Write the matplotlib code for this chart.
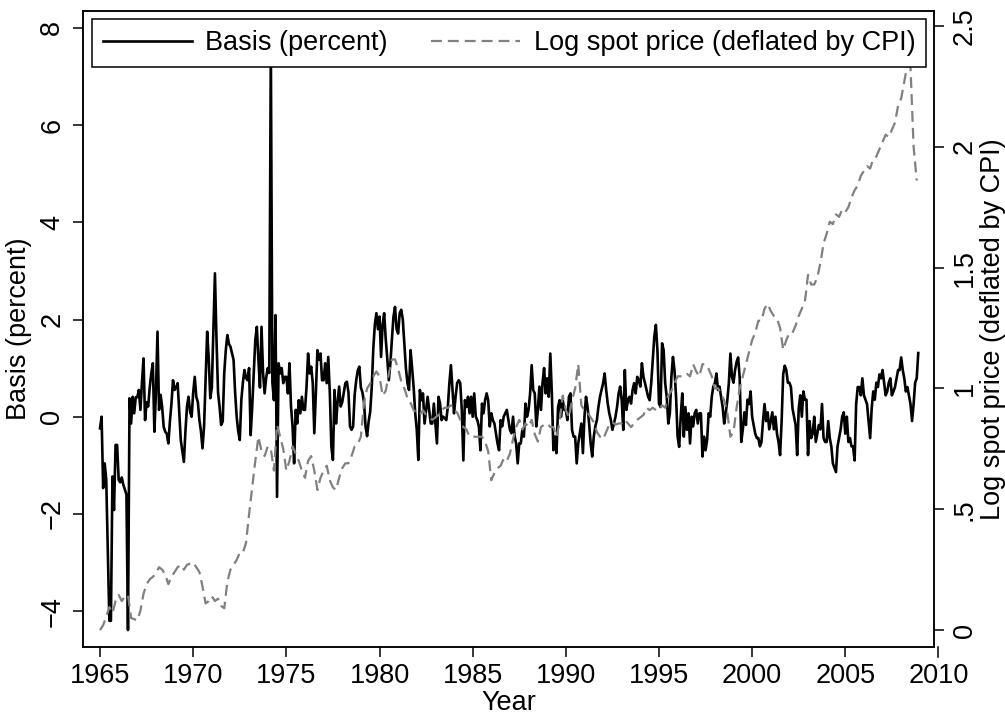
import numpy as np
import matplotlib
matplotlib.use('Agg')
import matplotlib.pyplot as plt
import matplotlib.transforms as mtransforms

plt.rcParams['font.family'] = ['Liberation Sans', 'DejaVu Sans']
plt.rcParams['font.size'] = 19.5

# monthly basis (percent), Jan 1965 .. Dec 2008, one row per year
first_year = 1965
basis = [
    -0.24, 0.0, -1.47, -0.96, -1.3, -2.8, -4.2, -4.2, -1.23, -1.92, -0.58, -0.58,   # 1965
    -1.3, -1.35, -1.25, -1.4, -1.5, -1.6, -4.39, 0.38, -0.14, 0.41, 0.07, 0.4,       # 1966
    0.4, 0.55, 0.14, 0.7, 1.2, -0.07, 0.3, 0.21, 0.6, 0.89, 1.1, -0.31,             # 1967
    0.5, 1.75, 0.14, 0.45, 0.2, -0.21, -0.31, -0.35, -0.55, -0.1, 0.27, 0.75,       # 1968
    0.55, 0.6, 0.69, 0.1, -0.48, -0.7, -0.93, -0.3, 0.21, 0.41, 0.1, 0.0,           # 1969
    0.5, 0.82, 0.41, 0.3, -0.07, -0.3, -0.65, -0.2, 0.75, 1.75, 1.2, 0.38,          # 1970
    0.6, 1.8, 2.95, 1.6, 0.5, 0.2, -0.17, -0.1, 0.9, 1.37, 1.68, 1.5,               # 1971
    1.44, 1.3, 1.17, 0.5, 0.0, -0.3, -0.48, 0.34, 0.7, 0.96, 0.8, 0.75,             # 1972
    1.0, -0.38, 0.2, 0.9, 1.58, 1.85, 1.17, 0.6, 1.85, 0.9, 0.48, 0.8,              # 1973
    1.0, 0.9, 7.6, 0.7, 0.34, 2.09, -1.65, 1.1, 0.89, 1.0, 0.69, 0.82,              # 1974
    0.82, 0.48, 1.1, 0.21, -0.2, -0.96, 0.14, -0.14, 0.34, 0.07, 0.41, 0.14,        # 1975
    0.14, 0.62, 1.3, 0.89, 1.03, 0.69, -0.34, 0.48, 1.37, 1.17, 1.3, 0.75,          # 1976
    0.75, 1.1, 0.69, 1.23, 0.48, -0.62, -0.89, 0.55, -0.14, 0.3, 0.62, 0.21,        # 1977
    0.3, 0.5, 0.69, 0.72, 0.5, -0.2, -0.27, -0.2, 0.45, 0.75, 0.95, 1.03,           # 1978
    0.6, 0.5, 0.3, -0.2, -0.4, -0.1, 0.1, 0.6, 1.4, 1.9, 2.13, 1.8,                 # 1979
    2.06, 1.23, 1.9, 2.13, 1.6, 1.2, 0.75, 1.1, 1.6, 2.06, 2.26, 1.8,               # 1980
    1.71, 2.13, 2.2, 2.0, 1.5, 1.0, 0.69, 0.55, 1.37, 1.0, 0.6, 0.07,               # 1981
    -0.27, -0.89, 0.55, 0.34, 0.48, -0.14, 0.14, 0.41, 0.14, -0.14, -0.14, 0.27,    # 1982
    -0.14, -0.55, 0.41, 0.27, -0.07, 0.0, -0.03, -0.07, 0.2, 0.69, 1.06, 0.55,      # 1983
    0.07, 0.41, 0.69, 0.75, 0.69, 0.14, -0.9, 0.34, 0.2, 0.41, 0.07, 0.41,          # 1984
    0.0, 0.48, 0.0, -0.07, -0.2, -0.69, 0.27, 0.07, 0.34, 0.48, 0.34, -0.2,         # 1985
    0.07, -0.07, -0.14, -0.34, -0.55, -0.69, -0.07, -0.2, 0.0, 0.07, 0.14, -0.07,   # 1986
    -0.27, -0.34, 0.0, -0.4, -0.55, -0.96, -0.55, -0.55, -0.27, -0.41, 0.27, 0.0,   # 1987
    0.14, 0.48, 1.06, 0.55, 0.48, -0.2, 0.14, 0.62, 0.14, 0.69, 1.0, 0.48,          # 1988
    0.79, 0.41, 1.3, 0.48, -0.69, -0.41, -0.75, 0.2, 0.34, 0.0, 0.34, 0.14,         # 1989
    0.14, -0.07, 0.41, 0.48, -0.27, -0.41, -0.41, -0.96, -0.55, -0.34, -0.14, -0.75,  # 1990
    0.0, 0.41, 0.2, -0.14, -0.55, -0.82, -0.41, -0.2, -0.07, 0.2, 0.41, 0.55,       # 1991
    0.69, 0.89, 0.55, 0.27, 0.07, -0.07, -0.27, -0.14, 0.0, 0.2, 0.48, 0.62,        # 1992
    0.34, -0.27, 0.96, 0.14, 0.34, 0.41, 0.27, 0.55, 0.69, 0.48, 0.82, 0.75,        # 1993
    0.62, 1.1, 0.82, 0.69, 0.55, 0.41, 0.34, 0.69, 1.17, 1.65, 1.89, 1.37,          # 1994
    0.27, 0.2, 1.51, 1.37, 0.69, 0.41, -0.14, 0.07, 0.82, 1.23, 0.96, 0.41,         # 1995
    -0.41, -0.62, 0.0, 0.48, -0.41, 0.2, -0.27, 0.07, -0.55, 0.0, -0.2, 0.07,       # 1996
    0.14, -0.14, 0.07, 0.07, -0.82, -0.41, -0.69, -0.48, 0.07, 0.0, 0.41, 0.62,     # 1997
    0.69, 0.89, 0.55, 0.62, 0.41, 0.2, -0.14, 0.07, 0.34, 0.69, 1.3, 0.82,          # 1998
    0.7, 0.96, 1.13, 1.22, 0.79, -0.52, -0.26, 0.09, -0.17, 0.35, 0.26, 0.52,       # 1999
    0.0, -0.17, -0.35, -0.44, -0.44, -0.61, -0.52, -0.09, 0.26, -0.09, 0.09, -0.26, # 2000
    -0.09, 0.09, -0.26, 0.0, -0.35, -0.52, -0.79, -0.09, 0.87, 1.05, 0.96, 0.7,     # 2001
    0.7, 0.61, 0.17, 0.0, -0.17, -0.79, 0.17, 0.44, 0.0, 0.52, 0.35, 0.35,          # 2002
    -0.79, -0.09, -0.44, -0.35, 0.0, -0.52, -0.35, -0.17, -0.26, 0.26, -0.44, -0.52,  # 2003
    -0.52, -0.09, -0.44, -0.61, -0.96, -1.05, -1.14, -0.61, -0.44, -0.26, 0.0, 0.09,  # 2004
    -0.35, 0.0, -0.52, -0.44, -0.61, -0.61, -0.9, 0.26, 0.61, 0.61, 0.44, 0.79,     # 2005
    0.44, 0.35, 0.26, -0.09, -0.44, 0.17, 0.52, 0.35, 0.7, 0.61, 0.87, 0.79,        # 2006
    0.96, 0.7, 0.44, 0.52, 0.7, 0.79, 0.44, 0.52, 0.61, 0.79, 0.96, 0.96,           # 2007
    1.22, 0.96, 0.79, 0.52, 0.61, 0.44, 0.26, -0.09, 0.26, 0.7, 0.79, 1.31,         # 2008
]

# log spot price deflated by CPI, read every two months, 1965 .. 2008
spot = [
    0.00, 0.02, 0.055, 0.095, 0.07, 0.12,     # 1965
    0.145, 0.12, 0.14, 0.145, 0.05, 0.045,    # 1966
    0.04, 0.08, 0.15, 0.19, 0.21, 0.22,       # 1967
    0.235, 0.26, 0.25, 0.23, 0.19, 0.22,      # 1968
    0.24, 0.26, 0.27, 0.25, 0.27, 0.275,      # 1969
    0.28, 0.26, 0.24, 0.18, 0.11, 0.12,       # 1970
    0.14, 0.12, 0.13, 0.10, 0.09, 0.20,       # 1971
    0.25, 0.27, 0.29, 0.32, 0.32, 0.36,       # 1972
    0.48, 0.59, 0.70, 0.80, 0.74, 0.72,       # 1973
    0.76, 0.75, 0.66, 0.85, 0.80, 0.75,       # 1974
    0.66, 0.70, 0.76, 0.73, 0.70, 0.66,       # 1975
    0.63, 0.70, 0.72, 0.66, 0.58, 0.63,       # 1976
    0.66, 0.68, 0.62, 0.59, 0.58, 0.63,       # 1977
    0.67, 0.69, 0.69, 0.72, 0.76, 0.77,       # 1978
    0.80, 0.94, 1.00, 1.02, 1.05, 1.07,       # 1979
    1.05, 0.97, 0.99, 1.06, 1.12, 1.12,       # 1980
    1.08, 1.03, 1.00, 0.96, 0.94, 0.91,       # 1981
    0.90, 0.89, 0.91, 0.89, 0.88, 0.87,       # 1982
    0.88, 0.89, 0.91, 0.92, 0.92, 0.93,       # 1983
    0.91, 0.90, 0.87, 0.84, 0.83, 0.80,       # 1984
    0.80, 0.80, 0.80, 0.80, 0.78, 0.74,       # 1985
    0.62, 0.65, 0.67, 0.68, 0.71, 0.70,       # 1986
    0.73, 0.79, 0.84, 0.87, 0.83, 0.855,      # 1987
    0.84, 0.87, 0.81, 0.78, 0.84, 0.85,       # 1988
    0.855, 0.84, 0.84, 0.80, 0.86, 0.97,      # 1989
    0.91, 0.88, 0.95, 1.00, 1.10, 0.93,       # 1990
    0.91, 0.90, 0.88, 0.86, 0.82, 0.80,       # 1991
    0.79, 0.82, 0.85, 0.86, 0.85, 0.855,      # 1992
    0.855, 0.87, 0.855, 0.84, 0.855, 0.87,    # 1993
    0.88, 0.89, 0.92, 0.91, 0.92, 0.91,       # 1994
    0.91, 0.93, 0.92, 0.97, 0.99, 1.02,       # 1995
    1.05, 1.05, 1.05, 1.06, 1.05, 1.10,       # 1996
    1.07, 1.05, 1.10, 1.10, 1.08, 1.05,       # 1997
    1.00, 1.00, 0.98, 0.95, 0.90, 0.80,       # 1998
    0.82, 0.92, 1.00, 1.05, 1.10, 1.15,       # 1999
    1.20, 1.23, 1.28, 1.28, 1.33, 1.35,       # 2000
    1.32, 1.30, 1.29, 1.25, 1.16, 1.20,       # 2001
    1.23, 1.23, 1.26, 1.30, 1.33, 1.36,       # 2002
    1.47, 1.43, 1.43, 1.46, 1.52, 1.60,       # 2003
    1.64, 1.69, 1.68, 1.72, 1.71, 1.74,       # 2004
    1.73, 1.75, 1.79, 1.82, 1.84, 1.88,       # 2005
    1.90, 1.92, 1.91, 1.95, 1.96, 1.99,       # 2006
    2.02, 2.05, 2.04, 2.07, 2.10, 2.17,       # 2007
    2.20, 2.27, 2.34, 2.33, 2.00, 1.86,       # 2008
]

year_ticks = [1965, 1970, 1975, 1980, 1985, 1990, 1995, 2000, 2005]
last_year_tick = 2010
basis_ticks = [-4, -2, 0, 2, 4, 6, 8]
spot_ticks = [0, 0.5, 1, 1.5, 2, 2.5]
spot_ticklabels = ['0', '.5', '1', '1.5', '2', '2.5']

t_basis = first_year + np.arange(len(basis)) / 12
t_spot = first_year + np.arange(len(spot)) / 6

fig = plt.figure(figsize=(10.05, 7.15), dpi=100)
ax = fig.add_axes([0.0823, 0.0955, 0.8474, 0.8895])
ax2 = ax.twinx()

l1, = ax.plot(t_basis, basis, color='black', lw=1.9)
l2, = ax2.plot(t_spot, spot, color='#808080', lw=1.6, ls=(0, (4.9, 2.7)))

ax.set_xlim(1964.07, 2009.78)
ax.set_ylim(-4.733, 8.354)
ax2.set_ylim(-0.069, 2.563)

ax.set_xticks(year_ticks)
ax.set_yticks(basis_ticks)
ax2.set_yticks(spot_ticks)
ax2.set_yticklabels(spot_ticklabels)

for a in (ax, ax2):
    for s in a.spines.values():
        s.set_linewidth(1.1)
    a.tick_params(direction='out', length=7.2, width=1.1)
ax.tick_params(axis='x', pad=4.5)
ax.tick_params(axis='y', labelrotation=90, pad=5.3)
ax2.tick_params(axis='y', labelrotation=90, pad=5.3)
for lab in ax.get_yticklabels() + ax2.get_yticklabels():
    lab.set_va('center')

# the 2010 tick lies just outside the plot region
trans = mtransforms.blended_transform_factory(ax.transData, ax.transAxes)
tick_len = 10 / 636
ax.plot([last_year_tick, last_year_tick], [0, -tick_len], transform=trans,
        clip_on=False, color='black', lw=1.1)
ax.text(last_year_tick, -tick_len - 0.0099, str(last_year_tick), transform=trans,
        ha='center', va='top')
ax.set_xlim(1964.07, 2009.78)

ax.set_xlabel('Year', labelpad=1)
ax.set_ylabel('Basis (percent)', labelpad=5)
ax2.set_ylabel('Log spot price (deflated by CPI)', labelpad=2)

leg = ax2.legend([l1, l2], ['Basis (percent)', 'Log spot price (deflated by CPI)'],
                 loc='upper left', bbox_to_anchor=(0.0106, 0.0, 0.9797, 0.9865),
                 mode='expand', ncol=2, borderaxespad=0, fancybox=False,
                 framealpha=1, edgecolor='black', handlelength=3.3,
                 handletextpad=0.5, borderpad=0.4)
leg.get_frame().set_linewidth(1.1)

fig.savefig('out.png', dpi=100)
